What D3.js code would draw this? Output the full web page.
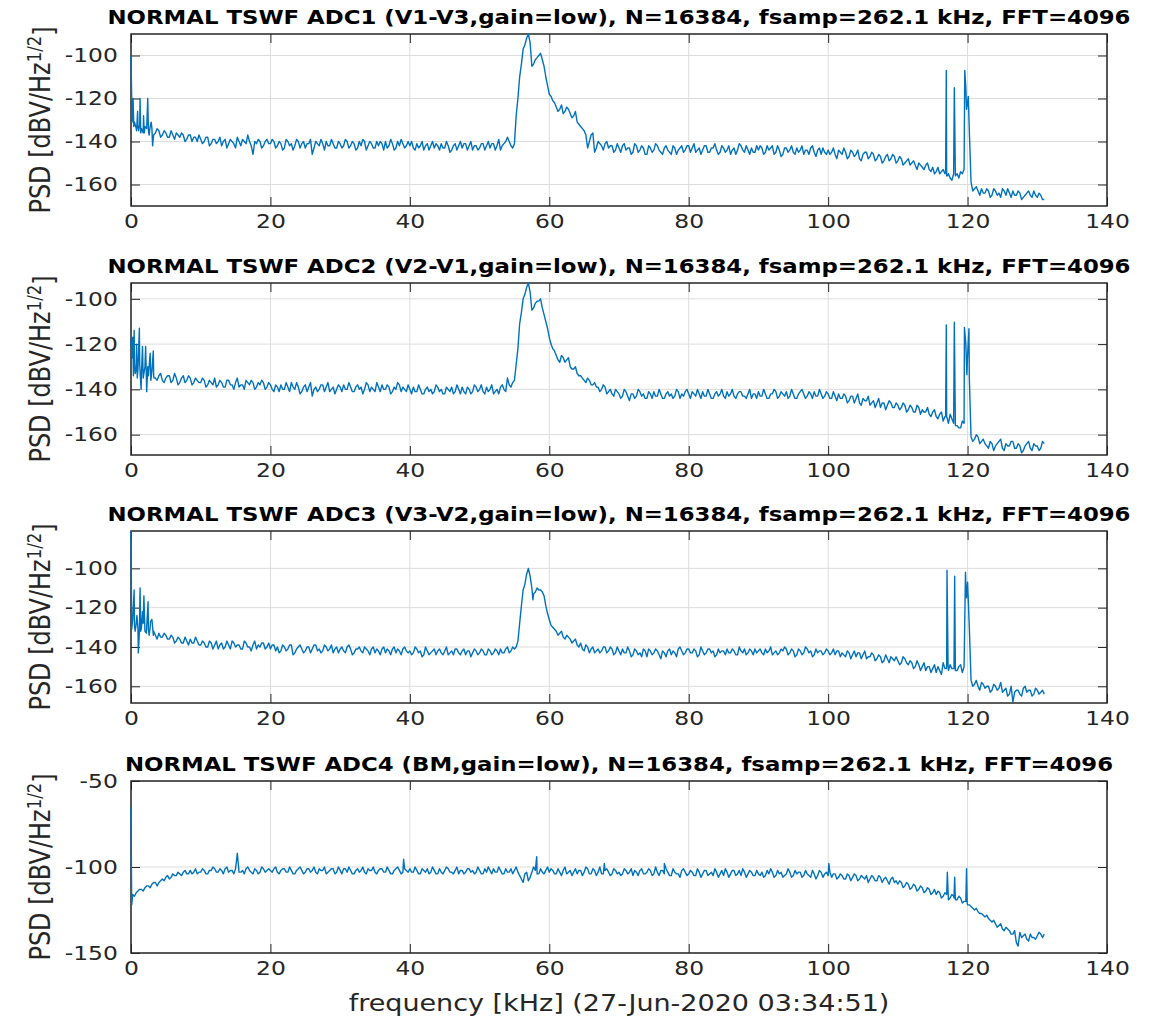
<!DOCTYPE html>
<html>
<head>
<meta charset="utf-8">
<script src="https://cdn.jsdelivr.net/npm/d3@7"></script>
<style>
  body { margin: 0; background: #fff; }
  text { font-family: "DejaVu Sans", sans-serif; }
</style>
</head>
<body>
<div id="chart"></div>
<script>
// frequency bins (kHz): 0.5 kHz grid 0..131 and the in-between bins 0.25..130.75
var freqs = d3.range(0, 131.25, 0.5);
var freqsMid = d3.range(0.25, 131, 0.5);

var titles = [
  "NORMAL TSWF ADC1 (V1-V3,gain=low), N=16384, fsamp=262.1 kHz, FFT=4096",
  "NORMAL TSWF ADC2 (V2-V1,gain=low), N=16384, fsamp=262.1 kHz, FFT=4096",
  "NORMAL TSWF ADC3 (V3-V2,gain=low), N=16384, fsamp=262.1 kHz, FFT=4096",
  "NORMAL TSWF ADC4 (BM,gain=low), N=16384, fsamp=262.1 kHz, FFT=4096"
];
var yLimits = [[-170, -90], [-169, -93], [-168.5, -81], [-150, -50]];
var yTicks = [[-160, -140, -120, -100], [-160, -140, -120, -100], [-160, -140, -120, -100], [-150, -100, -50]];
var xTicks = [0, 20, 40, 60, 80, 100, 120, 140];
var xLabel = "frequency [kHz] (27-Jun-2020 03:34:51)";

// PSD values on the 0.5 kHz grid, dBV/Hz^1/2 (rows of 10 kHz)
var psd1 = [
  -100,-131,-133,-134,-133,-135,-134,-136,-135,-137,-136,-138,-137,-136,-138,-137,-139,-137,-138,-140,
  -139,-140,-138,-141,-139,-140,-142,-139,-141,-140,-143,-140,-139,-141,-140,-146,-141,-140,-142,-139,
  -141,-140,-142,-141,-143,-140,-141,-142,-140,-141,-143,-141,-146,-140,-142,-141,-140,-142,-141,-143,
  -141,-142,-140,-142,-141,-143,-142,-140,-142,-141,-143,-142,-141,-140,-142,-141,-143,-142,-141,-142,
  -142,-143,-141,-142,-144,-141,-142,-143,-142,-141,-143,-142,-144,-141,-142,-143,-141,-142,-144,-142,
  -143,-141,-142,-143,-141,-142,-144,-141,-138,-142,-141,-120,-104,-95,-90,-105,-102,-100,-102,-110,
  -118,-121,-124,-125,-127,-124,-127,-128,-131,-133,-135,-143,-137,-145,-140,-142,-141,-143,-142,-144,
  -143,-142,-144,-143,-145,-142,-144,-143,-146,-143,-144,-142,-145,-143,-144,-146,-143,-144,-142,-144,
  -142,-143,-145,-143,-144,-142,-145,-143,-144,-145,-143,-144,-146,-143,-144,-142,-145,-144,-143,-145,
  -144,-143,-145,-144,-142,-145,-144,-146,-143,-144,-145,-143,-144,-146,-144,-143,-145,-144,-146,-145,
  -144,-145,-146,-144,-146,-145,-147,-145,-146,-148,-146,-145,-147,-146,-148,-147,-149,-146,-148,-147,
  -149,-148,-150,-148,-150,-151,-150,-152,-151,-153,-152,-154,-155,-153,-156,-157,-155,-155,-154,-153,
  -122,-159,-162,-163,-162,-164,-163,-165,-163,-164,-162,-165,-164,-163,-165,-164,-166,-164,-165,-163,
  -166,-165,-167
];
var psd1Mid = [
  -128,-134,-132,-136,-134,-133,-137,-134,-138,-135,-138,-135,-139,-137,-136,-140,-137,-140,-138,-137,
  -141,-138,-142,-139,-141,-138,-140,-143,-139,-141,-138,-142,-140,-137,-142,-140,-139,-143,-140,-141,
  -139,-143,-140,-144,-139,-142,-144,-139,-143,-140,-141,-139,-143,-141,-139,-144,-142,-139,-143,-140,
  -143,-139,-143,-140,-144,-140,-139,-144,-140,-143,-140,-140,-144,-143,-139,-144,-140,-139,-143,-140,
  -140,-144,-143,-140,-142,-144,-140,-141,-144,-143,-140,-145,-142,-144,-140,-141,-144,-140,-142,-144,
  -141,-144,-140,-141,-144,-139,-142,-140,-140,-143,-128,-110,-97,-92,-94,-104,-101,-99,-105,-114,
  -119,-122,-126,-123,-126,-125,-129,-126,-132,-134,-137,-140,-136,-143,-141,-144,-140,-142,-145,-141,
  -145,-141,-143,-146,-141,-145,-142,-146,-142,-145,-141,-144,-146,-142,-145,-142,-146,-143,-145,-142,
  -145,-141,-144,-146,-142,-145,-143,-141,-146,-142,-145,-142,-144,-146,-141,-144,-142,-146,-145,-142,
  -142,-146,-142,-143,-146,-142,-147,-143,-145,-142,-146,-145,-142,-144,-146,-142,-147,-143,-143,-146,
  -146,-143,-148,-145,-143,-148,-144,-147,-144,-149,-145,-148,-145,-149,-146,-150,-147,-149,-146,-150,
  -147,-151,-149,-151,-149,-153,-151,-153,-150,-154,-155,-152,-154,-155,-155,-158,-156,-157,-155,-115,
  -135,-163,-161,-165,-164,-162,-166,-162,-165,-166,-163,-162,-166,-165,-163,-167,-165,-163,-166,-165,
  -164,-167
];
var psd2 = [
  -118,-128,-131,-133,-130,-134,-132,-135,-134,-136,-135,-134,-136,-135,-137,-134,-136,-135,-137,-136,
  -137,-136,-138,-137,-135,-138,-137,-139,-136,-138,-137,-139,-138,-136,-138,-137,-139,-138,-137,-139,
  -138,-141,-139,-138,-140,-139,-137,-140,-139,-141,-138,-139,-143,-139,-140,-138,-139,-141,-139,-140,
  -139,-138,-140,-139,-141,-138,-139,-140,-138,-139,-141,-139,-138,-140,-139,-141,-140,-138,-139,-141,
  -140,-139,-141,-140,-142,-139,-140,-141,-139,-140,-142,-140,-139,-141,-140,-139,-142,-140,-141,-139,
  -140,-141,-139,-140,-142,-140,-139,-140,-135,-139,-136,-122,-106,-98,-93,-105,-102,-101,-104,-110,
  -117,-122,-125,-128,-126,-127,-130,-131,-133,-134,-136,-135,-138,-137,-139,-140,-139,-141,-142,-140,
  -142,-143,-141,-145,-142,-143,-141,-142,-144,-142,-141,-143,-142,-144,-141,-142,-143,-141,-142,-141,
  -142,-141,-143,-142,-141,-143,-142,-144,-141,-142,-143,-141,-142,-143,-142,-141,-143,-142,-144,-142,
  -141,-143,-142,-144,-142,-141,-143,-142,-141,-143,-142,-144,-141,-142,-143,-142,-141,-143,-142,-143,
  -142,-144,-143,-142,-144,-143,-145,-143,-144,-146,-144,-145,-147,-145,-146,-148,-146,-147,-146,-148,
  -147,-148,-147,-149,-148,-150,-148,-149,-150,-151,-150,-152,-151,-154,-152,-151,-155,-156,-157,-155,
  -125,-161,-162,-161,-163,-164,-166,-164,-165,-163,-166,-164,-165,-163,-166,-165,-167,-164,-166,-164,
  -165,-166,-164
];
var psd2Mid = [
  -117,-131,-129,-135,-141,-124,-134,-136,-133,-137,-134,-137,-133,-138,-135,-137,-134,-138,-135,-137,
  -135,-139,-136,-138,-139,-136,-139,-136,-138,-140,-135,-138,-140,-137,-136,-140,-137,-136,-140,-137,
  -140,-138,-141,-140,-137,-141,-139,-137,-142,-139,-141,-137,-140,-141,-138,-141,-137,-140,-142,-138,
  -141,-140,-137,-141,-139,-140,-142,-137,-141,-140,-137,-141,-140,-138,-142,-139,-137,-141,-140,-138,
  -142,-141,-138,-142,-140,-141,-142,-138,-141,-142,-139,-141,-142,-138,-142,-141,-139,-142,-138,-141,
  -138,-142,-141,-138,-141,-142,-138,-141,-138,-137,-129,-111,-100,-95,-97,-104,-101,-100,-107,-113,
  -120,-123,-127,-125,-128,-126,-131,-130,-134,-135,-137,-136,-138,-139,-141,-138,-142,-140,-143,-141,
  -144,-140,-143,-142,-144,-140,-143,-144,-141,-144,-143,-140,-144,-142,-143,-144,-140,-144,-143,-140,
  -144,-142,-140,-144,-143,-140,-144,-142,-143,-140,-144,-143,-140,-144,-141,-143,-144,-140,-142,-144,
  -143,-140,-144,-142,-140,-144,-141,-143,-144,-140,-144,-142,-140,-144,-141,-144,-143,-140,-144,-141,
  -144,-141,-145,-144,-142,-146,-143,-146,-142,-147,-145,-143,-146,-148,-144,-146,-149,-145,-148,-146,
  -149,-146,-150,-147,-150,-147,-151,-150,-148,-152,-149,-153,-150,-152,-155,-153,-156,-157,-154,-120,
  -135,-163,-160,-164,-162,-165,-163,-167,-164,-162,-167,-165,-163,-166,-164,-168,-165,-163,-167,-165,
  -167,-163
];
var psd3 = [
  -81,-129,-131,-130,-132,-131,-126,-134,-133,-135,-134,-136,-135,-137,-136,-138,-137,-136,-138,-137,
  -139,-138,-140,-138,-139,-141,-138,-140,-139,-137,-140,-139,-141,-138,-140,-139,-141,-140,-138,-140,
  -141,-139,-140,-142,-140,-141,-139,-143,-140,-141,-142,-140,-141,-139,-141,-142,-140,-141,-143,-140,
  -141,-142,-140,-141,-143,-141,-142,-140,-142,-141,-143,-142,-141,-143,-142,-141,-143,-142,-141,-142,
  -142,-143,-141,-142,-144,-142,-143,-141,-142,-143,-142,-144,-142,-141,-143,-142,-144,-142,-143,-142,
  -143,-142,-144,-142,-143,-142,-141,-143,-140,-142,-141,-137,-119,-108,-100,-110,-112,-111,-112,-119,
  -126,-130,-132,-133,-135,-134,-136,-137,-139,-138,-142,-140,-141,-143,-141,-142,-140,-142,-141,-143,
  -142,-141,-143,-142,-144,-142,-143,-141,-145,-142,-143,-142,-146,-143,-142,-144,-143,-141,-142,-143,
  -141,-143,-142,-144,-142,-143,-141,-142,-144,-143,-142,-141,-143,-142,-144,-142,-141,-143,-142,-141,
  -142,-143,-141,-142,-144,-142,-143,-142,-141,-143,-142,-144,-142,-143,-141,-142,-144,-143,-142,-143,
  -142,-143,-144,-142,-143,-145,-143,-144,-145,-143,-144,-146,-145,-144,-146,-145,-147,-146,-145,-147,
  -147,-148,-146,-149,-148,-150,-149,-150,-152,-150,-151,-153,-152,-148,-150,-149,-151,-152,-149,-150,
  -107,-157,-159,-160,-158,-161,-160,-162,-160,-161,-163,-161,-164,-168,-162,-164,-161,-163,-162,-164,
  -162,-163,-164
];
var psd3Mid = [
  -126,-128,-122,-128,-130,-130,-132,-136,-135,-133,-136,-134,-138,-135,-138,-135,-139,-138,-135,-139,
  -137,-140,-137,-141,-137,-139,-141,-137,-141,-138,-139,-141,-137,-140,-142,-137,-139,-138,-141,-138,
  -139,-142,-143,-139,-142,-139,-144,-141,-139,-143,-140,-143,-139,-142,-143,-139,-142,-139,-141,-143,
  -140,-143,-139,-144,-141,-140,-143,-141,-144,-140,-141,-144,-140,-141,-144,-140,-141,-144,-140,-143,
  -144,-140,-143,-145,-140,-144,-142,-144,-141,-144,-140,-143,-144,-141,-144,-141,-142,-145,-141,-144,
  -141,-144,-141,-144,-141,-144,-143,-141,-143,-140,-140,-128,-111,-103,-104,-113,-110,-111,-114,-123,
  -129,-131,-134,-132,-136,-135,-138,-136,-140,-141,-139,-143,-140,-142,-143,-140,-143,-140,-144,-140,
  -144,-143,-140,-145,-141,-144,-145,-142,-141,-144,-141,-144,-142,-145,-141,-142,-145,-140,-144,-141,
  -143,-141,-145,-140,-144,-141,-143,-145,-141,-142,-144,-143,-141,-144,-140,-143,-144,-141,-144,-143,
  -141,-144,-143,-140,-143,-144,-141,-140,-144,-141,-145,-141,-144,-140,-143,-145,-141,-142,-144,-141,
  -144,-141,-142,-145,-144,-142,-146,-142,-143,-146,-142,-145,-143,-147,-144,-148,-144,-148,-146,-145,
  -149,-145,-148,-147,-151,-147,-152,-148,-150,-153,-149,-150,-154,-151,-152,-151,-152,-150,-153,-108,
  -130,-160,-157,-162,-159,-160,-163,-159,-162,-158,-162,-165,-160,-163,-162,-165,-160,-162,-165,-161,
  -164,-162
];
var psd4 = [
  -65,-117,-114,-113,-112,-111,-110,-109,-109,-107,-106,-107,-104,-105,-104,-103,-104,-102,-103,-104,
  -103,-102,-104,-102,-101,-103,-102,-101,-103,-102,-101,-103,-102,-101,-102,-104,-102,-103,-101,-102,
  -102,-101,-103,-102,-101,-103,-102,-104,-101,-102,-103,-101,-102,-103,-101,-102,-104,-102,-101,-103,
  -102,-101,-103,-102,-104,-101,-102,-103,-101,-102,-103,-102,-101,-103,-102,-104,-101,-102,-103,-102,
  -101,-103,-102,-104,-102,-101,-103,-102,-104,-103,-102,-101,-103,-102,-104,-102,-103,-101,-102,-103,
  -102,-104,-103,-102,-101,-103,-102,-104,-103,-101,-102,-103,-107,-104,-108,-103,-102,-104,-103,-102,
  -103,-102,-104,-103,-102,-104,-102,-103,-104,-102,-103,-101,-104,-102,-103,-104,-102,-103,-104,-102,
  -103,-104,-102,-103,-105,-103,-102,-104,-103,-102,-104,-103,-102,-104,-103,-105,-103,-104,-102,-103,
  -104,-103,-105,-103,-104,-102,-104,-105,-103,-104,-105,-103,-104,-102,-104,-105,-103,-104,-103,-105,
  -104,-103,-105,-104,-103,-105,-104,-106,-104,-103,-105,-104,-103,-105,-104,-106,-104,-105,-103,-104,
  -105,-106,-104,-106,-105,-107,-105,-106,-105,-107,-106,-105,-107,-106,-108,-106,-107,-108,-107,-109,
  -110,-109,-111,-110,-112,-111,-113,-112,-114,-113,-115,-116,-115,-117,-116,-118,-117,-119,-118,-120,
  -122,-123,-125,-126,-127,-129,-130,-132,-133,-134,-136,-135,-137,-139,-144,-138,-140,-142,-139,-141,
  -140,-139,-139
];
var psd4Mid = [
  -116,-115,-113,-114,-111,-112,-109,-111,-108,-108,-105,-106,-105,-103,-105,-102,-104,-104,-101,-103,
  -101,-104,-102,-100,-103,-101,-104,-100,-102,-104,-92,-103,-104,-100,-103,-101,-104,-100,-103,-101,
  -103,-100,-104,-101,-103,-100,-104,-102,-100,-104,-101,-103,-100,-104,-102,-100,-103,-101,-104,-100,
  -104,-101,-100,-104,-102,-103,-100,-104,-102,-100,-104,-101,-103,-100,-104,-102,-100,-104,-101,-103,
  -103,-100,-104,-101,-103,-104,-100,-104,-101,-104,-100,-103,-104,-100,-102,-104,-101,-103,-104,-100,
  -104,-101,-100,-104,-103,-100,-104,-101,-103,-104,-100,-105,-109,-103,-106,-100,-104,-101,-104,-100,
  -101,-104,-101,-105,-100,-103,-105,-101,-102,-105,-100,-104,-101,-105,-100,-104,-101,-105,-101,-104,
  -105,-101,-104,-101,-102,-105,-101,-104,-101,-105,-100,-105,-102,-101,-105,-101,-104,-106,-101,-105,
  -102,-105,-101,-106,-102,-105,-103,-101,-106,-102,-101,-106,-102,-105,-102,-101,-106,-102,-105,-102,
  -105,-106,-102,-101,-106,-102,-103,-105,-101,-106,-102,-103,-106,-102,-105,-102,-107,-102,-106,-103,
  -103,-104,-107,-104,-107,-104,-108,-104,-108,-105,-107,-109,-105,-108,-105,-109,-106,-110,-106,-108,
  -108,-112,-109,-113,-110,-114,-111,-115,-112,-116,-113,-114,-118,-115,-119,-116,-119,-117,-121,-120,
  -122,-124,-124,-127,-128,-128,-131,-131,-135,-133,-137,-136,-139,-137,-146,-141,-139,-143,-141,-142,
  -138,-141
];

// narrow lines that fall between the bins above: [kHz, dB]
var spikes1 = [[0.15,-131],[0.3,-120],[0.4,-133],[0.8,-135],[0.95,-126],[1.1,-135],[1.3,-120],[1.4,-136],
  [1.8,-128],[1.9,-136],[2.4,-120],[2.6,-137],[2.9,-131],[3.1,-142],
  [116.85,-154],[116.95,-107],[117.1,-156],[118.1,-115],
  [119.6,-107],[119.85,-125],[120.1,-119]];
var spikes2 = [[0.15,-126],[0.35,-134],[0.45,-114],[0.6,-133],[0.8,-120],[0.9,-135],[1.2,-113],
  [1.35,-135],[1.45,-140],[1.65,-121],[1.8,-134],[2.1,-121],[2.4,-130],[2.85,-136],
  [3.2,-123],[3.3,-135],
  [116.85,-152],[116.95,-111.5],[117.1,-153],[118.1,-110.3],
  [119.55,-112.6],[119.9,-133.5],[120.2,-113.2]];
var spikes3 = [[0.1,-131],[0.45,-111],[0.6,-132],[0.85,-124],[1.05,-143],[1.2,-133],[1.3,-110],
  [1.4,-132],[1.65,-122],[1.85,-114],[2.2,-133],[2.45,-117],[2.6,-134],[2.8,-127],[3.2,-134],
  [57.65,-116],
  [116.95,-151],[117.05,-101],[117.2,-149],[118.05,-151],[118.15,-104],
  [119.7,-102],[119.85,-115]];
var spikes4 = [[0.1,-122],[39.1,-95.5],[58.2,-94],[67.9,-98],[76.5,-98],
  [100.1,-98],[117.1,-103],[118.05,-118],[118.15,-106],[119.85,-101],[119.95,-121]];

var psdSeries = [psd1, psd2, psd3, psd4];
var psdMidSeries = [psd1Mid, psd2Mid, psd3Mid, psd4Mid];
var spikeSeries = [spikes1, spikes2, spikes3, spikes4];

var W = 1161, H = 1019;
var left = 131, right = 1107;
var panelTops = [34, 283, 531, 781];
var panelH = 172;
var axisColor = "#262626";
var sx = 1.2; // horizontal stretch of the original picture's text

var svg = d3.select("#chart").append("svg")
    .attr("width", W)
    .attr("height", H);

var x = d3.scaleLinear().domain([0, 140]).range([left, right]);

psdSeries.forEach(function(vals, i) {
    var top = panelTops[i];
    var y = d3.scaleLinear().domain(yLimits[i]).range([top + panelH, top]);

    var mid = psdMidSeries[i];
    var points = freqs.map(function(f, j) { return [f, vals[j]]; })
        .concat(freqsMid.map(function(f, j) { return [f, mid[j]]; }))
        .concat(spikeSeries[i])
        .sort(function(a, b) { return a[0] - b[0]; });

    var g = svg.append("g");

    // grid
    g.selectAll(".xgrid").data(xTicks).enter().append("line")
        .attr("x1", function(d) { return x(d); })
        .attr("x2", function(d) { return x(d); })
        .attr("y1", top).attr("y2", top + panelH)
        .attr("stroke", "#dcdcdc").attr("stroke-width", 1);
    g.selectAll(".ygrid").data(yTicks[i]).enter().append("line")
        .attr("x1", left).attr("x2", right)
        .attr("y1", function(d) { return y(d); })
        .attr("y2", function(d) { return y(d); })
        .attr("stroke", "#dcdcdc").attr("stroke-width", 1);

    // axes with inward ticks
    var xb = g.append("g")
        .attr("transform", "translate(0," + (top + panelH) + ")")
        .call(d3.axisBottom(x).tickValues(xTicks).tickSize(-9).tickSizeOuter(0).tickPadding(8)
            .tickFormat(function(d) { return String(d); }));
    var xt = g.append("g")
        .attr("transform", "translate(0," + top + ")")
        .call(d3.axisTop(x).tickValues(xTicks).tickSize(-9).tickSizeOuter(0).tickFormat(""));
    var yl = g.append("g")
        .attr("transform", "translate(" + left + ",0)")
        .call(d3.axisLeft(y).tickValues(yTicks[i]).tickSize(-9).tickSizeOuter(0).tickPadding(11)
            .tickFormat(function(d) { return String(d); }));
    var yr = g.append("g")
        .attr("transform", "translate(" + right + ",0)")
        .call(d3.axisRight(y).tickValues(yTicks[i]).tickSize(-9).tickSizeOuter(0).tickFormat(""));

    [xb, xt, yl, yr].forEach(function(a) {
        a.select(".domain").remove();
        a.selectAll("line").attr("stroke", axisColor);
        a.selectAll("text")
            .attr("fill", axisColor)
            .style("font-family", "DejaVu Sans")
            .style("font-size", "19.5px")
            .attr("transform", "scale(" + sx + ",1)");
    });

    g.append("rect")
        .attr("x", left).attr("y", top)
        .attr("width", right - left).attr("height", panelH)
        .attr("fill", "none")
        .attr("stroke", axisColor)
        .attr("stroke-width", 1.5);

    // trace on top of the axes, clipped to the box
    svg.append("clipPath").attr("id", "clip" + i)
        .append("rect").attr("x", left - 1).attr("y", top - 1)
        .attr("width", right - left + 2).attr("height", panelH + 2);

    var line = d3.line()
        .x(function(d) { return x(d[0]); })
        .y(function(d) { return y(d[1]); });

    g.append("path")
        .datum(points)
        .attr("clip-path", "url(#clip" + i + ")")
        .attr("fill", "none")
        .attr("stroke", "#0072bd")
        .attr("stroke-width", 1.4)
        .attr("stroke-linejoin", "round")
        .attr("d", line);

    // title
    g.append("text")
        .attr("transform", "translate(" + ((left + right) / 2) + "," + (top - 10.5) + ") scale(1.17,1)")
        .attr("text-anchor", "middle")
        .style("font-size", "19.5px")
        .style("font-weight", "bold")
        .attr("fill", "#000")
        .text(titles[i]);

    // y label
    var lab = g.append("text")
        .attr("transform", "translate(50," + (top + panelH / 2) + ") scale(" + sx + ",1) rotate(-90)")
        .attr("text-anchor", "middle")
        .attr("fill", axisColor)
        .style("font-size", "24px");
    lab.append("tspan").text("PSD [dBV/Hz");
    lab.append("tspan").attr("dy", "-0.45em").style("font-size", "16.5px").text("1/2");
    lab.append("tspan").attr("dy", "0.45em").text("]");
});

svg.append("text")
    .attr("transform", "translate(" + ((left + right) / 2) + ",1011) scale(" + sx + ",1)")
    .attr("text-anchor", "middle")
    .attr("fill", axisColor)
    .style("font-size", "22.5px")
    .text(xLabel);
</script>
</body>
</html>
